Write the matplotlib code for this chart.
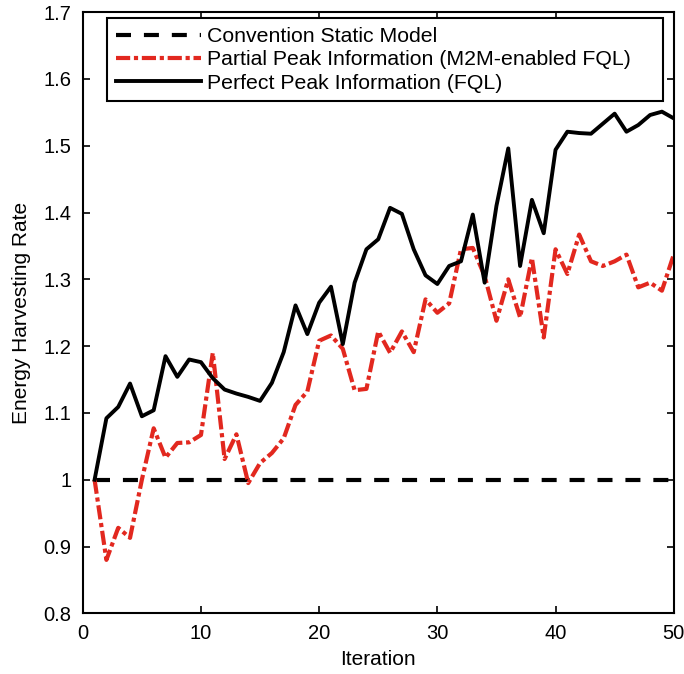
import numpy as np
import matplotlib.pyplot as plt
from matplotlib.ticker import FuncFormatter

plt.rcParams['font.family'] = ['Liberation Sans', 'DejaVu Sans']

iteration = np.arange(1, 51)

static_model = [1.0] * 50

partial_peak = [1.0, 0.88, 0.928, 0.913, 1.0, 1.077, 1.033, 1.055, 1.056, 1.067,
                1.19, 1.031, 1.068, 0.995, 1.025, 1.04, 1.062, 1.112, 1.132, 1.208,
                1.216, 1.196, 1.134, 1.136, 1.222, 1.19, 1.222, 1.191, 1.27, 1.25,
                1.264, 1.345, 1.347, 1.305, 1.238, 1.3, 1.243, 1.332, 1.213, 1.345,
                1.308, 1.367, 1.327, 1.32, 1.327, 1.337, 1.288, 1.295, 1.283, 1.337]

perfect_peak = [1.0, 1.092, 1.109, 1.144, 1.095, 1.104, 1.185, 1.154, 1.18, 1.176,
                1.152, 1.135, 1.129, 1.124, 1.118, 1.145, 1.191, 1.261, 1.218, 1.265,
                1.289, 1.203, 1.295, 1.345, 1.36, 1.407, 1.398, 1.345, 1.306, 1.293,
                1.32, 1.327, 1.397, 1.295, 1.41, 1.496, 1.32, 1.419, 1.369, 1.494,
                1.521, 1.519, 1.518, 1.533, 1.548, 1.521, 1.531, 1.546, 1.551, 1.541]

labels = ["Convention Static Model",
          "Partial Peak Information (M2M-enabled FQL)",
          "Perfect Peak Information (FQL)"]

fig = plt.figure(figsize=(6.84, 6.74), dpi=100)
ax = fig.add_axes([0.121, 0.09, 0.864, 0.892])

ax.plot(iteration, static_model, color="black", lw=3.0, dashes=(3.6, 3.1), label=labels[0])
ax.plot(iteration, partial_peak, color="#e2281f", lw=3.0, dashes=(3.4, 0.9, 1, 0.9), label=labels[1])
ax.plot(iteration, perfect_peak, color="black", lw=2.8, label=labels[2])

ax.set_xlim(0, 50)
ax.set_ylim(0.8, 1.7)
ax.set_xticks([0, 10, 20, 30, 40, 50])
ax.set_yticks(np.round(np.arange(0.8, 1.71, 0.1), 1))
ax.yaxis.set_major_formatter(FuncFormatter(lambda v, p: "%g" % round(v, 1)))
ax.tick_params(direction="in", top=True, right=True, length=5, width=1.2,
               labelsize=14.5, pad=8)
for s in ax.spines.values():
    s.set_linewidth(1.5)

ax.set_xlabel("Iteration", fontsize=15, labelpad=5)
ax.set_ylabel("Energy Harvesting Rate", fontsize=15, labelpad=9)

# legend box stretched over most of the axes width
leg = ax.legend(loc="upper left", bbox_to_anchor=(0.041, 0.856, 0.94, 0.134),
                mode="expand", fontsize=15.3, handlelength=4.0, handletextpad=0.3,
                borderpad=0.42, labelspacing=0.2, fancybox=False, framealpha=1,
                borderaxespad=0)
leg.get_frame().set_edgecolor("black")
leg.get_frame().set_linewidth(1.5)

fig.savefig("out.png", dpi=100)
